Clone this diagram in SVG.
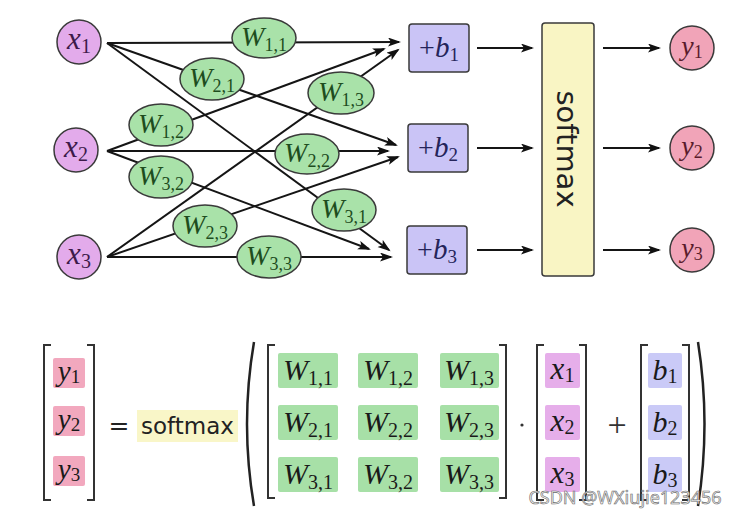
<svg xmlns="http://www.w3.org/2000/svg" width="736" height="517" viewBox="0 0 736 517">
<defs>
<marker id="ah" markerUnits="userSpaceOnUse" markerWidth="14" markerHeight="10" refX="11" refY="4.5" orient="auto">
<path d="M0,0 L13,4.5 L0,9 L3,4.5 z" fill="#111"/>
</marker>
<style>
.ln{stroke:#151515;stroke-width:2;fill:none;marker-end:url(#ah)}
.nd{stroke:#3a3a3a;stroke-width:1.5}
.wn{fill:#a9e2a9}
.xn{fill:#e3abeb}
.yn{fill:#f1a4b8}
.bn{fill:#cac4f6}
.sm{fill:#f9f5c4}
.mi{font-family:"Liberation Serif",serif;font-style:italic}
.su{font-family:"Liberation Serif",serif;font-style:normal}
.wt{fill:#1e4d1e}
.xt{fill:#3d1a4a}
.yt{fill:#5a1c2c}
.bt{fill:#25245a}
.sans{font-family:"DejaVu Sans",sans-serif;fill:#222}
.br{stroke:#333;stroke-width:2;fill:none}
.gb{fill:#a7e0a7}
.pb{fill:#f2a8be}
.vb{fill:#e6aeea}
.lb{fill:#cacaf7}
.mt{fill:#1a1a1a}
</style>
</defs>
<rect width="736" height="517" fill="#fff"/>

<g id="connectors">
<path class="ln" d="M107,43 L399,42"/>
<path class="ln" d="M107,43 L396,145"/>
<path class="ln" d="M107,43 L389,250"/>
<path class="ln" d="M107,151 L384,49"/>
<path class="ln" d="M107,151 L388,151"/>
<path class="ln" d="M107,151 L369,249"/>
<path class="ln" d="M107,257 L398,50"/>
<path class="ln" d="M107,257 L398,157"/>
<path class="ln" d="M107,257 L391,257"/>
<path class="ln" d="M477,48 L532,48"/>
<path class="ln" d="M477,148 L532,148"/>
<path class="ln" d="M477,250 L532,250"/>
<path class="ln" d="M603,48 L659,48"/>
<path class="ln" d="M603,148 L659,148"/>
<path class="ln" d="M603,250 L659,250"/>
</g>

<g id="x1"><circle class="nd xn" cx="79" cy="42" r="22"/><text x="79" y="49" text-anchor="middle" class="xt"><tspan class="mi" font-size="31">x</tspan><tspan class="su" font-size="20" dy="4">1</tspan></text></g>
<g id="x2"><circle class="nd xn" cx="76" cy="150" r="22"/><text x="76" y="157" text-anchor="middle" class="xt"><tspan class="mi" font-size="31">x</tspan><tspan class="su" font-size="20" dy="4">2</tspan></text></g>
<g id="x3"><circle class="nd xn" cx="79" cy="257" r="22"/><text x="79" y="264" text-anchor="middle" class="xt"><tspan class="mi" font-size="31">x</tspan><tspan class="su" font-size="20" dy="4">3</tspan></text></g>

<g id="W11"><ellipse class="nd wn" cx="264" cy="38" rx="32" ry="20"/><text x="264" y="46" text-anchor="middle" class="wt"><tspan class="mi" font-size="28">W</tspan><tspan class="su" font-size="18" dy="5">1,1</tspan></text></g>
<g id="W21"><ellipse class="nd wn" cx="212" cy="79" rx="32" ry="21"/><text x="212" y="87" text-anchor="middle" class="wt"><tspan class="mi" font-size="28">W</tspan><tspan class="su" font-size="18" dy="5">2,1</tspan></text></g>
<g id="W13"><ellipse class="nd wn" cx="341" cy="93" rx="33" ry="21"/><text x="341" y="101" text-anchor="middle" class="wt"><tspan class="mi" font-size="28">W</tspan><tspan class="su" font-size="18" dy="5">1,3</tspan></text></g>
<g id="W12"><ellipse class="nd wn" cx="161" cy="125" rx="32" ry="21"/><text x="161" y="133" text-anchor="middle" class="wt"><tspan class="mi" font-size="28">W</tspan><tspan class="su" font-size="18" dy="5">1,2</tspan></text></g>
<g id="W22"><ellipse class="nd wn" cx="307" cy="154" rx="32" ry="20"/><text x="307" y="162" text-anchor="middle" class="wt"><tspan class="mi" font-size="28">W</tspan><tspan class="su" font-size="18" dy="5">2,2</tspan></text></g>
<g id="W32"><ellipse class="nd wn" cx="161" cy="177" rx="32" ry="21"/><text x="161" y="185" text-anchor="middle" class="wt"><tspan class="mi" font-size="28">W</tspan><tspan class="su" font-size="18" dy="5">3,2</tspan></text></g>
<g id="W31"><ellipse class="nd wn" cx="344" cy="210" rx="32" ry="21"/><text x="344" y="218" text-anchor="middle" class="wt"><tspan class="mi" font-size="28">W</tspan><tspan class="su" font-size="18" dy="5">3,1</tspan></text></g>
<g id="W23"><ellipse class="nd wn" cx="205" cy="226" rx="32" ry="21"/><text x="205" y="234" text-anchor="middle" class="wt"><tspan class="mi" font-size="28">W</tspan><tspan class="su" font-size="18" dy="5">2,3</tspan></text></g>
<g id="W33"><ellipse class="nd wn" cx="269" cy="257" rx="32" ry="21"/><text x="269" y="265" text-anchor="middle" class="wt"><tspan class="mi" font-size="28">W</tspan><tspan class="su" font-size="18" dy="5">3,3</tspan></text></g>

<g id="b1"><rect class="nd bn" x="409" y="24" width="60" height="48" rx="3"/><text x="439" y="57" text-anchor="middle" class="bt"><tspan class="su" font-size="28">+</tspan><tspan class="mi" font-size="29">b</tspan><tspan class="su" font-size="19" dy="4">1</tspan></text></g>
<g id="b2"><rect class="nd bn" x="408" y="124" width="60" height="48" rx="3"/><text x="438" y="157" text-anchor="middle" class="bt"><tspan class="su" font-size="28">+</tspan><tspan class="mi" font-size="29">b</tspan><tspan class="su" font-size="19" dy="4">2</tspan></text></g>
<g id="b3"><rect class="nd bn" x="407" y="226" width="60" height="48" rx="3"/><text x="437" y="259" text-anchor="middle" class="bt"><tspan class="su" font-size="28">+</tspan><tspan class="mi" font-size="29">b</tspan><tspan class="su" font-size="19" dy="4">3</tspan></text></g>

<g id="softmax"><rect class="nd sm" x="542" y="23" width="52" height="253" rx="3"/><text transform="translate(557,149) rotate(90)" text-anchor="middle" class="sans" font-size="29">softmax</text></g>

<g id="y1"><circle class="nd yn" cx="692" cy="48" r="22"/><text x="692" y="55" text-anchor="middle" class="yt"><tspan class="mi" font-size="28">y</tspan><tspan class="su" font-size="18" dy="3">1</tspan></text></g>
<g id="y2"><circle class="nd yn" cx="692" cy="148" r="22"/><text x="692" y="155" text-anchor="middle" class="yt"><tspan class="mi" font-size="28">y</tspan><tspan class="su" font-size="18" dy="3">2</tspan></text></g>
<g id="y3"><circle class="nd yn" cx="692" cy="250" r="22"/><text x="692" y="257" text-anchor="middle" class="yt"><tspan class="mi" font-size="28">y</tspan><tspan class="su" font-size="18" dy="3">3</tspan></text></g>

<g id="equation">
<path class="br" d="M51,345 H44 V500 H51"/>
<path class="br" d="M87,345 H94 V500 H87"/>
<rect class="pb" x="53" y="358" width="32" height="30" rx="2"/>
<rect class="pb" x="53" y="406" width="32" height="30" rx="2"/>
<rect class="pb" x="53" y="456" width="32" height="30" rx="2"/>
<text x="69" y="381" text-anchor="middle" class="mt"><tspan class="mi" font-size="29">y</tspan><tspan class="su" font-size="19" dy="2">1</tspan></text>
<text x="69" y="429" text-anchor="middle" class="mt"><tspan class="mi" font-size="29">y</tspan><tspan class="su" font-size="19" dy="2">2</tspan></text>
<text x="69" y="479" text-anchor="middle" class="mt"><tspan class="mi" font-size="29">y</tspan><tspan class="su" font-size="19" dy="2">3</tspan></text>
<text x="119" y="434" text-anchor="middle" class="sans" font-size="25">=</text>
<rect x="137" y="410" width="101" height="32" fill="#f9f6c8"/>
<text x="187.5" y="434" text-anchor="middle" class="sans" font-size="23">softmax</text>
<path d="M254,342 Q240,424 254,506" stroke="#222" stroke-width="2.5" fill="none"/>
<path class="br" d="M275,345 H268 V498 H275"/>
<path class="br" d="M499,345 H506 V498 H499"/>
<rect class="gb" x="278" y="353" width="60" height="35" rx="2"/>
<rect class="gb" x="358" y="353" width="60" height="35" rx="2"/>
<rect class="gb" x="440" y="353" width="59" height="35" rx="2"/>
<rect class="gb" x="278" y="405" width="60" height="35" rx="2"/>
<rect class="gb" x="358" y="405" width="60" height="35" rx="2"/>
<rect class="gb" x="440" y="405" width="59" height="35" rx="2"/>
<rect class="gb" x="278" y="457" width="60" height="35" rx="2"/>
<rect class="gb" x="358" y="457" width="60" height="35" rx="2"/>
<rect class="gb" x="440" y="457" width="59" height="35" rx="2"/>
<g class="mt" text-anchor="middle">
<text x="308" y="380"><tspan class="mi" font-size="30">W</tspan><tspan class="su" font-size="20" dy="5">1,1</tspan></text>
<text x="388" y="380"><tspan class="mi" font-size="30">W</tspan><tspan class="su" font-size="20" dy="5">1,2</tspan></text>
<text x="469" y="380"><tspan class="mi" font-size="30">W</tspan><tspan class="su" font-size="20" dy="5">1,3</tspan></text>
<text x="308" y="432"><tspan class="mi" font-size="30">W</tspan><tspan class="su" font-size="20" dy="5">2,1</tspan></text>
<text x="388" y="432"><tspan class="mi" font-size="30">W</tspan><tspan class="su" font-size="20" dy="5">2,2</tspan></text>
<text x="469" y="432"><tspan class="mi" font-size="30">W</tspan><tspan class="su" font-size="20" dy="5">2,3</tspan></text>
<text x="308" y="484"><tspan class="mi" font-size="30">W</tspan><tspan class="su" font-size="20" dy="5">3,1</tspan></text>
<text x="388" y="484"><tspan class="mi" font-size="30">W</tspan><tspan class="su" font-size="20" dy="5">3,2</tspan></text>
<text x="469" y="484"><tspan class="mi" font-size="30">W</tspan><tspan class="su" font-size="20" dy="5">3,3</tspan></text>
</g>
<circle cx="522" cy="425" r="1.6" fill="#333"/>
<path class="br" d="M544,345 H537 V500 H544"/>
<path class="br" d="M579,345 H586 V500 H579"/>
<rect class="vb" x="545" y="353" width="35" height="35" rx="2"/>
<rect class="vb" x="545" y="405" width="35" height="35" rx="2"/>
<rect class="vb" x="545" y="457" width="35" height="35" rx="2"/>
<text x="562.5" y="379" text-anchor="middle" class="mt"><tspan class="mi" font-size="31">x</tspan><tspan class="su" font-size="20" dy="3">1</tspan></text>
<text x="562.5" y="431" text-anchor="middle" class="mt"><tspan class="mi" font-size="31">x</tspan><tspan class="su" font-size="20" dy="3">2</tspan></text>
<text x="562.5" y="483" text-anchor="middle" class="mt"><tspan class="mi" font-size="31">x</tspan><tspan class="su" font-size="20" dy="3">3</tspan></text>
<text x="617" y="436" text-anchor="middle" class="su" font-size="34" fill="#333">+</text>
<path class="br" d="M648,345 H641 V500 H648"/>
<path class="br" d="M682,345 H689 V500 H682"/>
<rect class="lb" x="648" y="353" width="34" height="35" rx="2"/>
<rect class="lb" x="648" y="405" width="34" height="35" rx="2"/>
<rect class="lb" x="648" y="457" width="34" height="35" rx="2"/>
<text x="665" y="380" text-anchor="middle" class="mt"><tspan class="mi" font-size="30">b</tspan><tspan class="su" font-size="20" dy="3">1</tspan></text>
<text x="665" y="432" text-anchor="middle" class="mt"><tspan class="mi" font-size="30">b</tspan><tspan class="su" font-size="20" dy="3">2</tspan></text>
<text x="665" y="484" text-anchor="middle" class="mt"><tspan class="mi" font-size="30">b</tspan><tspan class="su" font-size="20" dy="3">3</tspan></text>
<path d="M698,342 Q711,424 698,506" stroke="#222" stroke-width="2.5" fill="none"/>
</g>

<text x="625" y="504" text-anchor="middle" font-family="'Noto Sans',sans-serif" font-size="18" fill="#f2f2f2" stroke="#6a6a6a" stroke-width="0.6">CSDN @WXiujie123456</text>
</svg>
